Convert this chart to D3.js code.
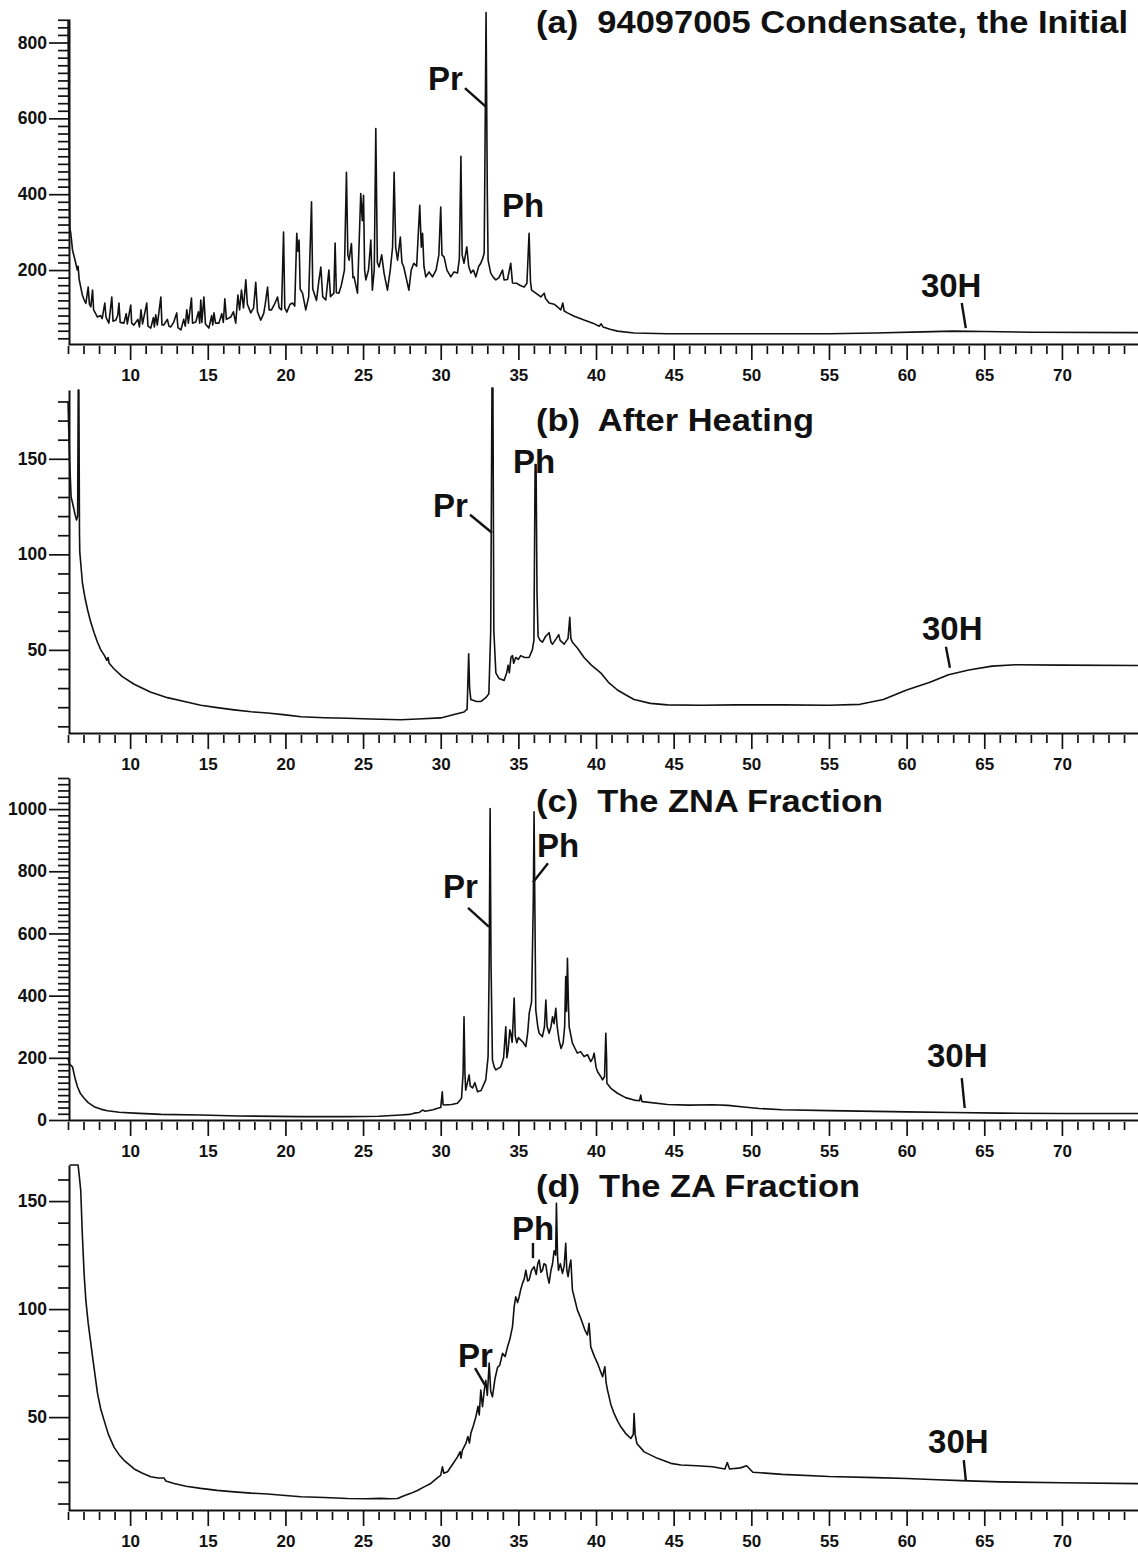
<!DOCTYPE html>
<html>
<head>
<meta charset="utf-8">
<script src="https://cdn.jsdelivr.net/npm/d3@7"></script>
<style>
  body { margin: 0; background: #fff; }
  svg { display: block; font-family: "Liberation Sans", Arial, Helvetica, sans-serif; font-weight: bold; }
  .axis path, .axis line { stroke: #111; }
  .axis .domain { stroke-width: 2; }
  .axis line { stroke-width: 1.7; }
  .axis text { fill: #111; font-weight: bold; }
  .trace { fill: none; stroke: #111; stroke-width: 1.6; stroke-linejoin: round; }
  .leader { stroke: #111; stroke-width: 2.4; }
  .note, .title { fill: #111; }
</style>
</head>
<body>
<div id="chart"></div>
<script>
// ---- data (retention time in min, intensity) ----
const xMajorTicks = [10, 15, 20, 25, 30, 35, 40, 45, 50, 55, 60, 65, 70];
const yTicksA = [200, 400, 600, 800];
const yTicksB = [50, 100, 150];
const yTicksC = [0, 200, 400, 600, 800, 1000];
const yTicksD = [50, 100, 150];

const titles = [
  '(a)  94097005 Condensate, the Initial',
  '(b)  After Heating',
  '(c)  The ZNA Fraction',
  '(d)  The ZA Fraction'
];

const traceA = [
  [6.0, 858], [6.06, 560], [6.12, 310], [6.18, 297], [6.29, 253], [6.4, 235], [6.5, 218], [6.6, 200],
  [6.65, 210], [6.72, 175], [6.82, 155], [6.92, 135], [7.04, 121], [7.15, 112], [7.3, 155], [7.38, 110],
  [7.47, 103], [7.58, 147], [7.65, 95], [7.9, 76], [8.1, 80], [8.2, 72], [8.37, 113], [8.45, 75],
  [8.63, 60], [8.82, 129], [8.9, 65], [9.08, 68], [9.2, 80], [9.28, 113], [9.36, 62], [9.6, 60],
  [9.75, 85], [9.82, 58], [10.04, 108], [10.1, 60], [10.24, 55], [10.5, 70], [10.6, 50], [10.7, 95],
  [10.8, 58], [11.07, 113], [11.15, 52], [11.33, 47], [11.5, 75], [11.56, 50], [11.65, 82], [11.75, 55],
  [11.98, 129], [12.05, 55], [12.17, 55], [12.4, 70], [12.5, 52], [12.62, 50], [12.8, 62], [13.0, 87],
  [13.08, 48], [13.27, 42], [13.45, 70], [13.55, 52], [13.65, 95], [13.75, 60], [13.95, 126], [14.02, 60],
  [14.23, 63], [14.4, 90], [14.48, 60], [14.55, 121], [14.62, 62], [14.75, 129], [14.85, 58], [15.07, 47],
  [15.25, 80], [15.32, 55], [15.4, 87], [15.5, 60], [15.72, 60], [15.9, 85], [16.0, 62], [16.1, 124],
  [16.2, 70], [16.48, 76], [16.65, 90], [16.8, 60], [16.94, 134], [17.05, 95], [17.17, 147], [17.3, 100],
  [17.45, 174], [17.55, 110], [17.77, 87], [17.95, 100], [18.09, 168], [18.2, 90], [18.41, 68], [18.6, 85],
  [18.7, 110], [18.85, 155], [18.95, 95], [19.1, 95], [19.3, 110], [19.49, 129], [19.6, 100], [19.75, 95],
  [19.88, 300], [19.96, 100], [20.09, 89], [20.3, 110], [20.46, 113], [20.6, 105], [20.73, 297], [20.8, 250],
  [20.88, 279], [20.95, 150], [21.1, 139], [21.31, 95], [21.5, 130], [21.68, 380], [21.76, 150], [21.85, 139],
  [22.0, 120], [22.15, 170], [22.28, 208], [22.4, 130], [22.6, 121], [22.8, 200], [22.9, 130], [23.12, 139],
  [23.2, 271], [23.28, 140], [23.44, 139], [23.6, 160], [23.8, 200], [23.93, 458], [24.02, 240], [24.1, 226],
  [24.25, 270], [24.35, 180], [24.42, 182], [24.64, 139], [24.85, 402], [24.95, 330], [25.03, 397], [25.1, 200],
  [25.18, 174], [25.35, 200], [25.5, 279], [25.6, 147], [25.72, 200], [25.82, 573], [25.92, 220], [26.03, 208],
  [26.2, 240], [26.35, 192], [26.57, 147], [26.75, 200], [26.9, 260], [27.0, 458], [27.1, 260], [27.22, 226],
  [27.4, 287], [27.5, 220], [27.62, 208], [27.95, 147], [28.1, 200], [28.27, 218], [28.45, 210], [28.65, 371],
  [28.75, 260], [28.83, 297], [28.92, 210], [29.04, 182], [29.25, 195], [29.47, 182], [29.7, 200], [29.88, 240],
  [30.0, 366], [30.08, 240], [30.22, 234], [30.4, 200], [30.65, 182], [30.85, 195], [31.08, 192], [31.2, 230],
  [31.3, 500], [31.38, 240], [31.5, 218], [31.68, 261], [31.8, 210], [31.94, 192], [32.1, 200], [32.26, 182],
  [32.45, 210], [32.58, 218], [32.7, 230], [32.8, 245], [32.92, 879], [33.0, 400], [33.05, 226], [33.22, 192],
  [33.4, 180], [33.55, 174], [33.75, 180], [33.98, 200], [34.08, 174], [34.3, 175], [34.51, 218], [34.62, 166],
  [34.9, 165], [35.1, 160], [35.37, 155], [35.55, 165], [35.69, 297], [35.78, 170], [35.85, 147], [36.1, 140],
  [36.45, 129], [36.66, 139], [36.75, 125], [36.98, 113], [37.3, 110], [37.6, 100], [37.73, 95], [37.86, 113],
  [37.95, 92], [38.16, 87], [38.6, 78], [39.23, 68], [39.8, 60], [40.2, 52], [40.33, 58], [40.45, 50],
  [40.9, 44], [41.38, 39], [42.45, 34], [44.6, 32], [50, 32], [55, 32], [58, 34], [61, 37],
  [63, 39], [65, 38], [68, 36], [75, 35]
];

const traceB = [
  [6.0, 180], [6.1, 150], [6.2, 130], [6.29, 127], [6.45, 121], [6.55, 118], [6.62, 120], [6.66, 186],
  [6.7, 186], [6.74, 110], [6.76, 101], [6.93, 85], [7.1, 77], [7.26, 71], [7.45, 65], [7.68, 59],
  [7.9, 54], [8.11, 50], [8.35, 47], [8.5, 44.5], [8.58, 46], [8.65, 43], [8.97, 40], [9.5, 36],
  [10.26, 32], [11.3, 28], [12.4, 25], [13.5, 23], [14.55, 21], [15.6, 19.8], [16.7, 18.6], [17.8, 17.6],
  [18.85, 17], [20, 16], [21, 15], [22.5, 14.5], [24, 14.2], [25.5, 13.8], [27.43, 13.4], [28.5, 13.8],
  [30, 14.4], [30.8, 16], [31.5, 17.5], [31.7, 19], [31.8, 48], [31.86, 30], [31.94, 24], [32.3, 23],
  [32.6, 23], [32.9, 25], [33.1, 27], [33.22, 60], [33.3, 187], [33.36, 187], [33.42, 60], [33.55, 38],
  [33.76, 35], [34.08, 34], [34.25, 38], [34.34, 42], [34.42, 38], [34.52, 46], [34.62, 47], [34.7, 43],
  [34.83, 46], [35.0, 45], [35.15, 47], [35.4, 46], [35.69, 46], [35.9, 50], [36.0, 55], [36.08, 147],
  [36.14, 147], [36.2, 80], [36.27, 57], [36.4, 55], [36.55, 54], [36.75, 57], [36.98, 59], [37.1, 54],
  [37.2, 53], [37.45, 56], [37.6, 58], [37.69, 55], [37.95, 53], [38.2, 56], [38.31, 67], [38.38, 56],
  [38.48, 54], [38.8, 51], [39.23, 46], [39.7, 42], [40.3, 38], [40.8, 33], [41.38, 29], [41.9, 26.5],
  [42.45, 24], [43.5, 22], [44.6, 21.2], [46.75, 21], [49, 21.2], [52, 21.2], [55, 21], [57, 21.5],
  [58.5, 24], [60, 29], [61.5, 33], [62.7, 37], [64, 39.5], [65.5, 41.5], [67, 42.2], [70, 42], [75, 41.8]
];

const traceC = [
  [6.0, 200], [6.1, 180], [6.29, 171], [6.45, 135], [6.61, 107], [6.8, 85], [7.04, 70], [7.3, 56],
  [7.68, 43], [8.1, 35], [8.54, 30], [9.3, 25], [10.26, 22], [12, 18], [14.55, 16], [17, 13],
  [21, 10.7], [24, 11], [26, 12], [27.43, 16], [28.0, 18], [28.29, 22], [28.6, 24], [28.83, 32],
  [29.0, 28], [29.5, 33], [29.8, 38], [30.0, 40], [30.1, 91], [30.15, 50], [30.22, 48], [30.7, 50],
  [31.08, 54], [31.34, 70], [31.44, 150], [31.5, 332], [31.56, 150], [31.61, 96], [31.72, 120], [31.83, 145],
  [31.9, 110], [32.05, 103], [32.2, 120], [32.37, 91], [32.6, 95], [32.9, 129], [33.05, 204], [33.12, 500],
  [33.18, 1002], [33.24, 500], [33.33, 193], [33.45, 170], [33.55, 161], [33.87, 171], [34.05, 200], [34.19, 300],
  [34.26, 200], [34.34, 225], [34.45, 290], [34.51, 279], [34.6, 250], [34.73, 392], [34.8, 270], [34.9, 248],
  [35.0, 265], [35.16, 257], [35.3, 250], [35.48, 236], [35.6, 280], [35.7, 344], [35.85, 380], [35.96, 700],
  [36.01, 991], [36.06, 700], [36.12, 354], [36.25, 300], [36.34, 279], [36.55, 268], [36.68, 300], [36.77, 386],
  [36.85, 300], [36.98, 279], [37.1, 300], [37.2, 332], [37.3, 310], [37.41, 359], [37.5, 300], [37.62, 257],
  [37.75, 230], [37.88, 247], [37.98, 300], [38.05, 461], [38.1, 350], [38.16, 520], [38.22, 380], [38.27, 300],
  [38.48, 247], [38.65, 230], [38.8, 215], [39.0, 220], [39.23, 204], [39.45, 210], [39.66, 188], [39.8, 200],
  [39.88, 215], [40.0, 170], [40.1, 155], [40.3, 140], [40.42, 129], [40.55, 140], [40.63, 279], [40.68, 200],
  [40.7, 118], [41.0, 100], [41.38, 86], [41.9, 72], [42.45, 64], [42.8, 62], [42.88, 80], [42.95, 60],
  [43.0, 59], [44.6, 50], [46.0, 48], [47.5, 49], [48.5, 47], [49.5, 42], [50.5, 37], [52, 33],
  [55, 30], [60, 26], [63, 24], [66, 22], [70, 21], [75, 21]
];

const traceD = [
  [6.1, 166.7], [6.65, 166.7], [6.72, 162], [6.82, 155], [6.92, 135], [7.04, 116], [7.15, 104], [7.3, 93.5],
  [7.58, 78], [7.9, 61], [8.1, 54], [8.32, 48.6], [8.6, 42], [8.97, 36], [9.3, 32.5], [9.61, 30],
  [10.26, 26], [10.8, 24], [11.33, 22.4], [11.8, 21.8], [12.19, 21.8], [12.3, 20.4], [12.83, 19.3], [13.6, 18],
  [14.55, 17], [15.6, 16.1], [16.7, 15.4], [17.8, 14.8], [18.85, 14.4], [20, 13.7], [21, 13.1], [22.5, 12.8],
  [24, 12.3], [25.2, 12.2], [26.14, 12.4], [26.7, 12.2], [27.22, 12.3], [27.6, 13.5], [28.07, 14.7], [28.5, 16],
  [28.93, 17.7], [29.36, 19.3], [29.8, 22], [30.0, 23], [30.11, 27], [30.2, 24], [30.44, 24.7], [30.8, 28.5],
  [31.08, 31.6], [31.25, 34], [31.3, 31], [31.4, 34.7], [31.62, 37.8], [31.75, 41], [31.85, 38], [31.94, 42.5],
  [32.1, 46], [32.26, 50], [32.4, 55], [32.48, 51], [32.58, 62.5], [32.69, 54.8], [32.8, 62], [32.9, 67],
  [33.0, 60], [33.12, 75], [33.22, 62], [33.33, 59.4], [33.5, 68], [33.66, 73], [33.8, 74], [33.98, 79.5],
  [34.15, 78], [34.3, 82.5], [34.45, 86], [34.62, 91.8], [34.73, 101], [34.83, 105.7], [34.95, 103], [35.05, 105.7],
  [35.15, 109], [35.27, 112], [35.38, 114], [35.48, 118], [35.6, 113], [35.69, 113.4], [35.85, 118], [36.01, 119.6],
  [36.15, 116], [36.25, 121], [36.34, 122.7], [36.45, 117], [36.55, 118], [36.65, 121], [36.77, 120.4], [36.88, 115],
  [36.98, 112], [37.1, 118], [37.2, 121], [37.3, 127], [37.4, 125], [37.45, 149], [37.52, 125], [37.58, 118],
  [37.7, 121], [37.84, 116.5], [37.95, 120], [38.05, 130.4], [38.12, 118], [38.2, 115], [38.3, 120], [38.38, 122.7],
  [38.48, 108.8], [38.65, 104], [38.8, 99.5], [38.95, 97], [39.13, 93.4], [39.3, 90], [39.45, 88], [39.55, 93.4],
  [39.62, 87], [39.66, 82.5], [39.9, 78], [40.1, 74.9], [40.3, 71], [40.42, 68.7], [40.57, 73.3], [40.65, 66],
  [40.74, 62.5], [40.95, 56], [41.16, 51.7], [41.4, 48], [41.6, 45.5], [41.9, 42.5], [42.24, 40.1], [42.4, 42],
  [42.45, 51.7], [42.52, 42], [42.63, 37.8], [43.1, 33.9], [43.96, 30.9], [44.82, 28.6], [45.46, 27.8], [46.5, 27.5],
  [47.5, 27], [48.3, 26], [48.45, 29], [48.6, 26], [49.3, 26.5], [49.7, 27.5], [50.1, 24.5], [52, 23.5],
  [55, 22.5], [58, 22], [60, 21.6], [62, 21], [63.5, 20.6], [66, 20], [70, 19.6], [75, 19.2]
];

// ---- layout ----
const width = 1138;
const height = 1557;
const xDomain = [6, 75];
const xRange = [68, 68 + 69 * 15.53];

// each panel: pixel frame plus annotation anchors in data units
const panels = [
  {
    trace: traceA, yTicks: yTicksA, minorStep: 20, yDomain: [5, 862], axisY: 344, top: 19,
    title: titles[0], titleY: 33, titleW: 592,
    notes: [{text: 'Pr', t: 29.18, v: 675}, {text: 'Ph', t: 33.95, v: 339}, {text: '30H', t: 60.92, v: 129}],
    leaders: [[31.56, 680, 32.92, 630], [63.55, 113, 63.81, 47]]
  },
  {
    trace: traceB, yTicks: yTicksB, minorStep: 10, yDomain: [6.5, 186], axisY: 733, top: 390,
    title: titles[1], titleY: 431, titleW: 278,
    notes: [{text: 'Pr', t: 29.5, v: 119.6}, {text: 'Ph', t: 34.65, v: 142.7}, {text: '30H', t: 60.99, v: 55.2}],
    leaders: [[31.89, 120.7, 33.3, 111.3], [62.53, 51.6, 62.79, 40.6]]
  },
  {
    trace: traceC, yTicks: yTicksC, minorStep: 20, yDomain: [0, 1100], axisY: 1120, top: 778,
    title: titles[2], titleY: 812, titleW: 347,
    notes: [{text: 'Pr', t: 30.15, v: 714}, {text: 'Ph', t: 36.2, v: 846}, {text: '30H', t: 61.31, v: 170}],
    leaders: [[31.76, 682, 33.11, 621], [36.91, 826, 35.94, 765], [63.55, 135, 63.74, 38.6]]
  },
  {
    trace: traceD, yTicks: yTicksD, minorStep: 10, yDomain: [7, 166.7], axisY: 1510, top: 1165,
    title: titles[3], titleY: 1197, titleW: 324,
    notes: [{text: 'Ph', t: 34.59, v: 132}, {text: 'Pr', t: 31.11, v: 73.1}, {text: '30H', t: 61.38, v: 33.3}],
    leaders: [[35.94, 130.6, 35.94, 123.6], [32.21, 72.7, 32.85, 64.8], [63.68, 30.1, 63.81, 20.8]]
  }
];

const svg = d3.select('#chart')
  .append('svg')
  .attr('width', width)
  .attr('height', height);

const xscale = d3.scaleLinear().domain(xDomain).range(xRange);
const xMinorTicks = d3.range(6, 75, 1).filter(d => d % 5 !== 0);

function drawPanel(p) {
  const yscale = d3.scaleLinear().domain(p.yDomain).range([p.axisY, p.top]);
  const g = svg.append('g');

  // minor x ticks
  g.append('g')
    .attr('class', 'axis')
    .attr('transform', `translate(0,${p.axisY + 2})`)
    .call(d3.axisBottom(xscale).tickValues(xMinorTicks).tickSize(8).tickFormat(''))
    .call(s => s.select('.domain').remove());

  // major x ticks + labels
  g.append('g')
    .attr('class', 'axis')
    .attr('transform', `translate(0,${p.axisY})`)
    .call(d3.axisBottom(xscale).tickValues(xMajorTicks).tickSize(16).tickSizeOuter(0).tickPadding(9))
    .call(s => s.selectAll('text').attr('font-size', 17));

  // minor y ticks
  const yMax = p.yDomain[1];
  const yMinor = d3.range(p.minorStep, yMax + 0.1, p.minorStep).filter(d => !p.yTicks.includes(d));
  g.append('g')
    .attr('class', 'axis')
    .attr('transform', `translate(${xRange[0] + 1},0)`)
    .call(d3.axisLeft(yscale).tickValues(yMinor).tickSize(11).tickFormat(''))
    .call(s => s.select('.domain').remove());

  // major y ticks + labels, axis line
  g.append('g')
    .attr('class', 'axis')
    .attr('transform', `translate(${xRange[0] + 1},0)`)
    .call(d3.axisLeft(yscale).tickValues(p.yTicks).tickFormat(d3.format('d'))
      .tickSize(20).tickSizeOuter(0).tickPadding(2))
    .call(s => s.selectAll('text').attr('font-size', 17.5));

  // the trace
  const line = d3.line()
    .x(d => xscale(d[0]))
    .y(d => yscale(d[1]));
  g.append('path')
    .datum(p.trace)
    .attr('class', 'trace')
    .attr('d', line);

  // peak annotations
  g.selectAll('.note')
    .data(p.notes)
    .enter()
    .append('text')
    .attr('class', 'note')
    .attr('x', d => xscale(d.t))
    .attr('y', d => yscale(d.v))
    .attr('font-size', 33)
    .text(d => d.text);

  g.selectAll('.leader')
    .data(p.leaders)
    .enter()
    .append('line')
    .attr('class', 'leader')
    .attr('x1', d => xscale(d[0]))
    .attr('y1', d => yscale(d[1]))
    .attr('x2', d => xscale(d[2]))
    .attr('y2', d => yscale(d[3]));

  // panel title
  g.append('text')
    .attr('class', 'title')
    .attr('x', 536)
    .attr('y', p.titleY)
    .attr('font-size', 32)
    .attr('textLength', p.titleW)
    .attr('lengthAdjust', 'spacingAndGlyphs')
    .style('white-space', 'pre')
    .text(p.title);
}

panels.forEach(drawPanel);
</script>
</body>
</html>
